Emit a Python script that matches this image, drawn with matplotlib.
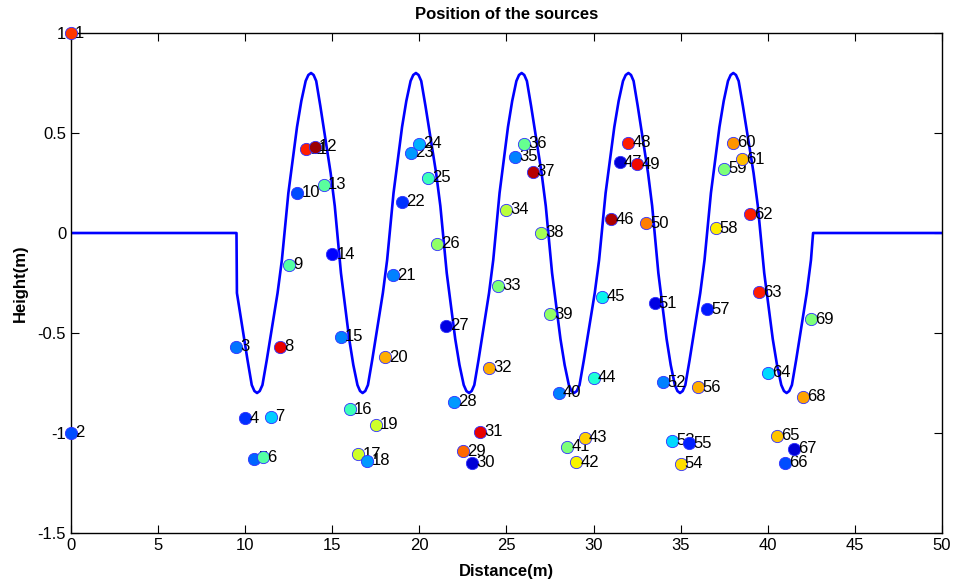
## Position of the sources along the wavy profile
import matplotlib
matplotlib.use('Agg')
import matplotlib.pyplot as plt
import numpy as np

plt.rcParams['font.family'] = ['Liberation Sans', 'DejaVu Sans']

# source positions
src_x = [0, 0, 9.5, 10, 10.5, 11, 11.5, 12, 12.5, 13, 13.5, 14, 14.5, 15, 15.5,
         16, 16.5, 17, 17.5, 18, 18.5, 19, 19.5, 20, 20.5, 21, 21.5, 22, 22.5,
         23, 23.5, 24, 24.5, 25, 25.5, 26, 26.5, 27, 27.5, 28, 28.5, 29, 29.5,
         30, 30.5, 31, 31.5, 32, 32.5, 33, 33.5, 34, 34.5, 35, 35.5, 36, 36.5,
         37, 37.5, 38, 38.5, 39, 39.5, 40, 40.5, 41, 41.5, 42, 42.5]
src_y = [1.0, -1.0, -0.568, -0.927, -1.13, -1.12, -0.918, -0.568, -0.16, 0.20,
         0.418, 0.43, 0.24, -0.107, -0.518, -0.882, -1.107, -1.138, -0.96, -0.622,
         -0.212, 0.157, 0.40, 0.445, 0.277, -0.055, -0.465, -0.843, -1.09, -1.148,
         -0.993, -0.673, -0.263, 0.115, 0.38, 0.445, 0.307, 0.0, -0.407, -0.798,
         -1.068, -1.147, -1.023, -0.723, -0.318, 0.068, 0.353, 0.45, 0.343, 0.048,
         -0.352, -0.747, -1.038, -1.155, -1.052, -0.772, -0.382, 0.023, 0.32, 0.452,
         0.368, 0.093, -0.297, -0.698, -1.013, -1.148, -1.08, -0.818, -0.432]
# colour value of each source (jet scale)
src_val = [0.85, 0.20, 0.24, 0.175, 0.225, 0.45, 0.325, 0.91, 0.45, 0.20,
           0.875, 0.975, 0.46, 0.125, 0.25, 0.425, 0.60, 0.275, 0.60, 0.725,
           0.25, 0.175, 0.275, 0.30, 0.425, 0.525, 0.0875, 0.275, 0.80, 0.075,
           0.91, 0.725, 0.50, 0.575, 0.25, 0.475, 0.95, 0.55, 0.525, 0.25,
           0.50, 0.65, 0.6875, 0.39, 0.36, 0.96, 0.075, 0.875, 0.90, 0.775,
           0.0875, 0.25, 0.3375, 0.675, 0.16, 0.725, 0.15, 0.66, 0.50, 0.75,
           0.71, 0.875, 0.875, 0.3375, 0.70, 0.20, 0.075, 0.7375, 0.50]

troughs = [10.68, 16.74, 22.85, 28.88, 34.96, 41.08]
peaks = [13.78, 19.80, 25.87, 32.00, 38.02]
half_t = [0.0, 0.05, 0.10, 0.18, 0.28, 0.38, 0.46, 0.52, 0.58, 0.66, 0.74,
          0.82, 0.90, 0.95, 1.0]
half_y = [-0.8, -0.79, -0.76, -0.635, -0.468, -0.30, -0.135, 0.03, 0.2, 0.365,
          0.53, 0.66, 0.76, 0.79, 0.8]
wave_start, wave_end = 9.5, 42.6

half = np.mean(np.diff(sorted(troughs + peaks)))

# lead-in: tail of a falling half wave before the first trough
cx, cy = [0, wave_start], [0, 0]
for t, yv in zip(half_t[::-1], half_y[::-1]):
    xv = troughs[0] - half * t
    if xv >= wave_start:
        cx.append(xv)
        cy.append(yv)
turn = sorted(troughs + peaks)
for a, b in zip(turn[:-1], turn[1:]):
    sign = 1 if a in troughs else -1
    for t, yv in zip(half_t[1:], half_y[1:]):
        cx.append(a + (b - a) * t)
        cy.append(sign * yv)
# lead-out: rise after the last trough back to the flat part
for t, yv in zip(half_t[1:], half_y[1:]):
    if yv < 0:
        cx.append(troughs[-1] + half * t)
        cy.append(yv)
cx += [wave_end, 50]
cy += [0, 0]

fig = plt.figure(figsize=(9.54, 5.83), dpi=100)
ax = fig.add_axes([71 / 954, 50 / 583, 871 / 954, 500 / 583])

ax.plot(cx, cy, color='#0000ff', lw=1.9, zorder=2, solid_joinstyle='round')

cmap = plt.get_cmap('jet')
for i, (x, y, v) in enumerate(zip(src_x, src_y, src_val)):
    ax.scatter([x], [y], s=78, color=cmap(v), edgecolors='#3030ff', linewidths=0.6,
               zorder=3 + 2 * i, clip_on=False)
    ax.annotate(str(i + 1), (x, y), xytext=(3.0, 0), textcoords='offset points',
                ha='left', va='center', fontsize=12, zorder=4 + 2 * i,
                annotation_clip=False)

ax.set_xlim(0, 50)
ax.set_ylim(-1.5, 1)
ax.set_xticks(np.arange(0, 51, 5))
ax.set_yticks([-1.5, -1, -0.5, 0, 0.5, 1])
ax.set_yticklabels(['-1.5', '-1', '-0.5', '0', '0.5', '1'])
ax.tick_params(direction='in', top=True, right=True, length=5.8, width=0.8,
               labelsize=12, pad=3.5)
for sp in ax.spines.values():
    sp.set_linewidth(1.0)

ax.set_title('Position of the sources', fontsize=12, fontweight='bold', pad=10)
ax.set_xlabel('Distance(m)', fontsize=12, fontweight='bold', labelpad=8)
ax.set_ylabel('Height(m)', fontsize=12, fontweight='bold', labelpad=7)

fig.savefig('out.png', dpi=100)
